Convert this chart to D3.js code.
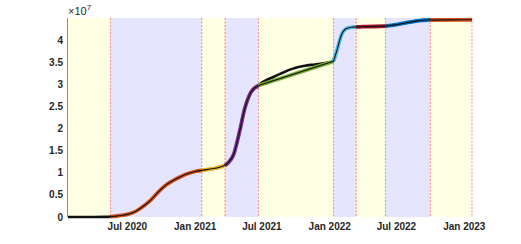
<!DOCTYPE html>
<html>
<head>
<meta charset="utf-8">
<title>Cumulative cases by phase</title>
<script src="https://d3js.org/d3.v7.min.js"></script>
<style>
body { margin: 0; background: #fff; }
text { font-family: "Liberation Sans", Helvetica, Arial, sans-serif; fill: #262626; }
.tick-label { font-size: 10px; font-weight: bold; }
</style>
</head>
<body>
<script>

// cumulative cases (millions)
var dates = ["2020-01-22","2020-03-01","2020-04-01","2020-05-01","2020-05-16","2020-06-01","2020-06-15",
  "2020-07-01","2020-07-15","2020-08-01","2020-08-15","2020-09-01","2020-09-15","2020-10-01","2020-10-15",
  "2020-11-01","2020-11-15","2020-12-01","2020-12-15","2021-01-01","2021-01-19","2021-02-01","2021-02-15",
  "2021-03-01","2021-03-23","2021-04-01","2021-04-15","2021-05-01","2021-05-15","2021-06-01","2021-06-22",
  "2021-07-01","2021-07-15","2021-08-01","2021-08-15","2021-09-01","2021-09-15","2021-10-01","2021-10-15",
  "2021-11-01","2021-11-15","2021-12-01","2021-12-15","2022-01-01","2022-01-11","2022-01-20","2022-02-01",
  "2022-02-15","2022-03-01","2022-03-14","2022-04-01","2022-05-01","2022-06-01","2022-07-01","2022-08-01",
  "2022-09-01","2022-10-01","2022-11-01","2022-12-01","2023-01-22"];
var cases = [0, 0.00003, 0.002, 0.037, 0.09, 0.19, 0.34,
  0.59, 0.94, 1.70, 2.53, 3.69, 4.93, 6.31, 7.31,
  8.18, 8.81, 9.46, 9.88, 10.29, 10.55, 10.72, 10.90,
  11.10, 11.69, 12.30, 14.07, 19.16, 24.37, 28.17, 29.75,
  30.40, 31.03, 31.66, 32.19, 32.81, 33.32, 33.77, 34.02,
  34.29, 34.43, 34.58, 34.75, 34.98, 35.20, 37.50, 41.00,
  42.60, 42.90, 43.00, 43.03, 43.08, 43.17, 43.50, 44.00,
  44.40, 44.60, 44.66, 44.68, 44.70];

// phase boundaries and fit colours
var phaseStarts = ["2020-01-22","2020-05-16","2021-01-19","2021-03-23","2021-06-22",
  "2022-01-11","2022-03-14","2022-06-01","2022-10-01"];
var phaseEnd = "2023-01-22";
var phaseColors = ["#0072BD","#D95319","#EDB120","#7E2F8E","#77AC30","#4DBEEE","#A2142F","#0072BD","#D95319"];
var phaseShade = ["y","b","y","b","y","b","y","b","y"];

// fits that differ from the data
var fitLinearDates = ["2021-06-22","2022-01-11"];
var fitLinearCases = [29.75, 35.20];
var fitLastDates = ["2022-10-01","2022-12-01","2023-01-22"];
var fitLastCases = [44.52, 44.58, 44.60];

var yTicks = [0, 0.5, 1, 1.5, 2, 2.5, 3, 3.5, 4];
var xTicks = ["2020-07-01","2021-01-01","2021-07-01","2022-01-01","2022-07-01","2023-01-01"];

var W = 521, H = 244;
var margin = {top: 18, right: 49, bottom: 27, left: 68};

var parse = d3.timeParse("%Y-%m-%d");
var data = dates.map(function(d, i) { return {date: parse(d), v: cases[i] * 1e6}; });

var x = d3.scaleTime()
  .domain([parse("2020-01-22"), parse("2023-01-22")])
  .range([margin.left, W - margin.right]);
var y = d3.scaleLinear()
  .domain([0, 4.5e7])
  .range([H - margin.bottom, margin.top]);

var svg = d3.select("body").append("svg")
  .attr("width", W).attr("height", H);

// shaded phases
var bounds = phaseStarts.concat([phaseEnd]).map(parse);
svg.append("g").selectAll("rect")
  .data(phaseStarts)
  .enter().append("rect")
  .attr("x", function(d, i) { return x(bounds[i]); })
  .attr("width", function(d, i) { return x(bounds[i + 1]) - x(bounds[i]); })
  .attr("y", y(4.5e7))
  .attr("height", y(0) - y(4.5e7))
  .attr("fill", function(d, i) { return phaseShade[i] == "y" ? "#FFFFE4" : "#E5E5FD"; });

svg.append("g").selectAll("line")
  .data(bounds.slice(1))
  .enter().append("line")
  .attr("x1", function(d) { return x(d); }).attr("x2", function(d) { return x(d); })
  .attr("y1", y(4.5e7)).attr("y2", y(0))
  .attr("stroke", "#f03030")
  .attr("stroke-width", 0.7)
  .attr("stroke-dasharray", "2,1.5")
  .attr("opacity", 0.8);

var line = d3.line()
  .x(function(d) { return x(d.date); })
  .y(function(d) { return y(d.v); })
  .curve(d3.curveMonotoneX);

// data
svg.append("path")
  .datum(data)
  .attr("d", line)
  .attr("fill", "none")
  .attr("stroke", "#111")
  .attr("stroke-width", 2.6);

// fits per phase
function fitPoints(i) {
  if (i == 4) return fitLinearDates.map(function(d, k) { return {date: parse(d), v: fitLinearCases[k] * 1e6}; });
  if (i == 8) return fitLastDates.map(function(d, k) { return {date: parse(d), v: fitLastCases[k] * 1e6}; });
  return data.filter(function(d) { return d.date >= bounds[i] && d.date <= bounds[i + 1]; });
}
var fits = svg.append("g").selectAll("g")
  .data(phaseStarts.slice(1))
  .enter().append("g");
fits.append("path")
  .attr("d", function(d, k) { return line(fitPoints(k + 1)); })
  .attr("fill", "none")
  .attr("stroke", function(d, k) { return phaseColors[k + 1]; })
  .attr("stroke-width", 3.8);
fits.append("path")
  .attr("d", function(d, k) { return line(fitPoints(k + 1)); })
  .attr("fill", "none")
  .attr("stroke", "#111")
  .attr("stroke-width", 1.1);

// y axis
svg.append("line")
  .attr("x1", margin.left - 0.5).attr("x2", margin.left - 0.5)
  .attr("y1", y(4.5e7)).attr("y2", y(0))
  .attr("stroke", "#8a8a8a").attr("stroke-width", 1);

svg.append("g").selectAll("text")
  .data(yTicks)
  .enter().append("text")
  .attr("class", "tick-label")
  .attr("x", margin.left - 5)
  .attr("y", function(d) { return y(d * 1e7); })
  .attr("dy", "0.35em")
  .attr("text-anchor", "end")
  .text(function(d) { return d; });

var exp = svg.append("text")
  .attr("x", margin.left)
  .attr("y", 15)
  .style("font-size", "11px");
exp.append("tspan").text("\u00d710");
exp.append("tspan").attr("dy", -5).style("font-size", "8px").text("7");

// x tick labels
var fmt = d3.timeFormat("%b %Y");
svg.append("g").selectAll("text")
  .data(xTicks)
  .enter().append("text")
  .attr("class", "tick-label")
  .attr("x", function(d) { return x(parse(d)); })
  .attr("y", y(0) + 13)
  .attr("text-anchor", "middle")
  .text(function(d) { return fmt(parse(d)); });

</script>
</body>
</html>
